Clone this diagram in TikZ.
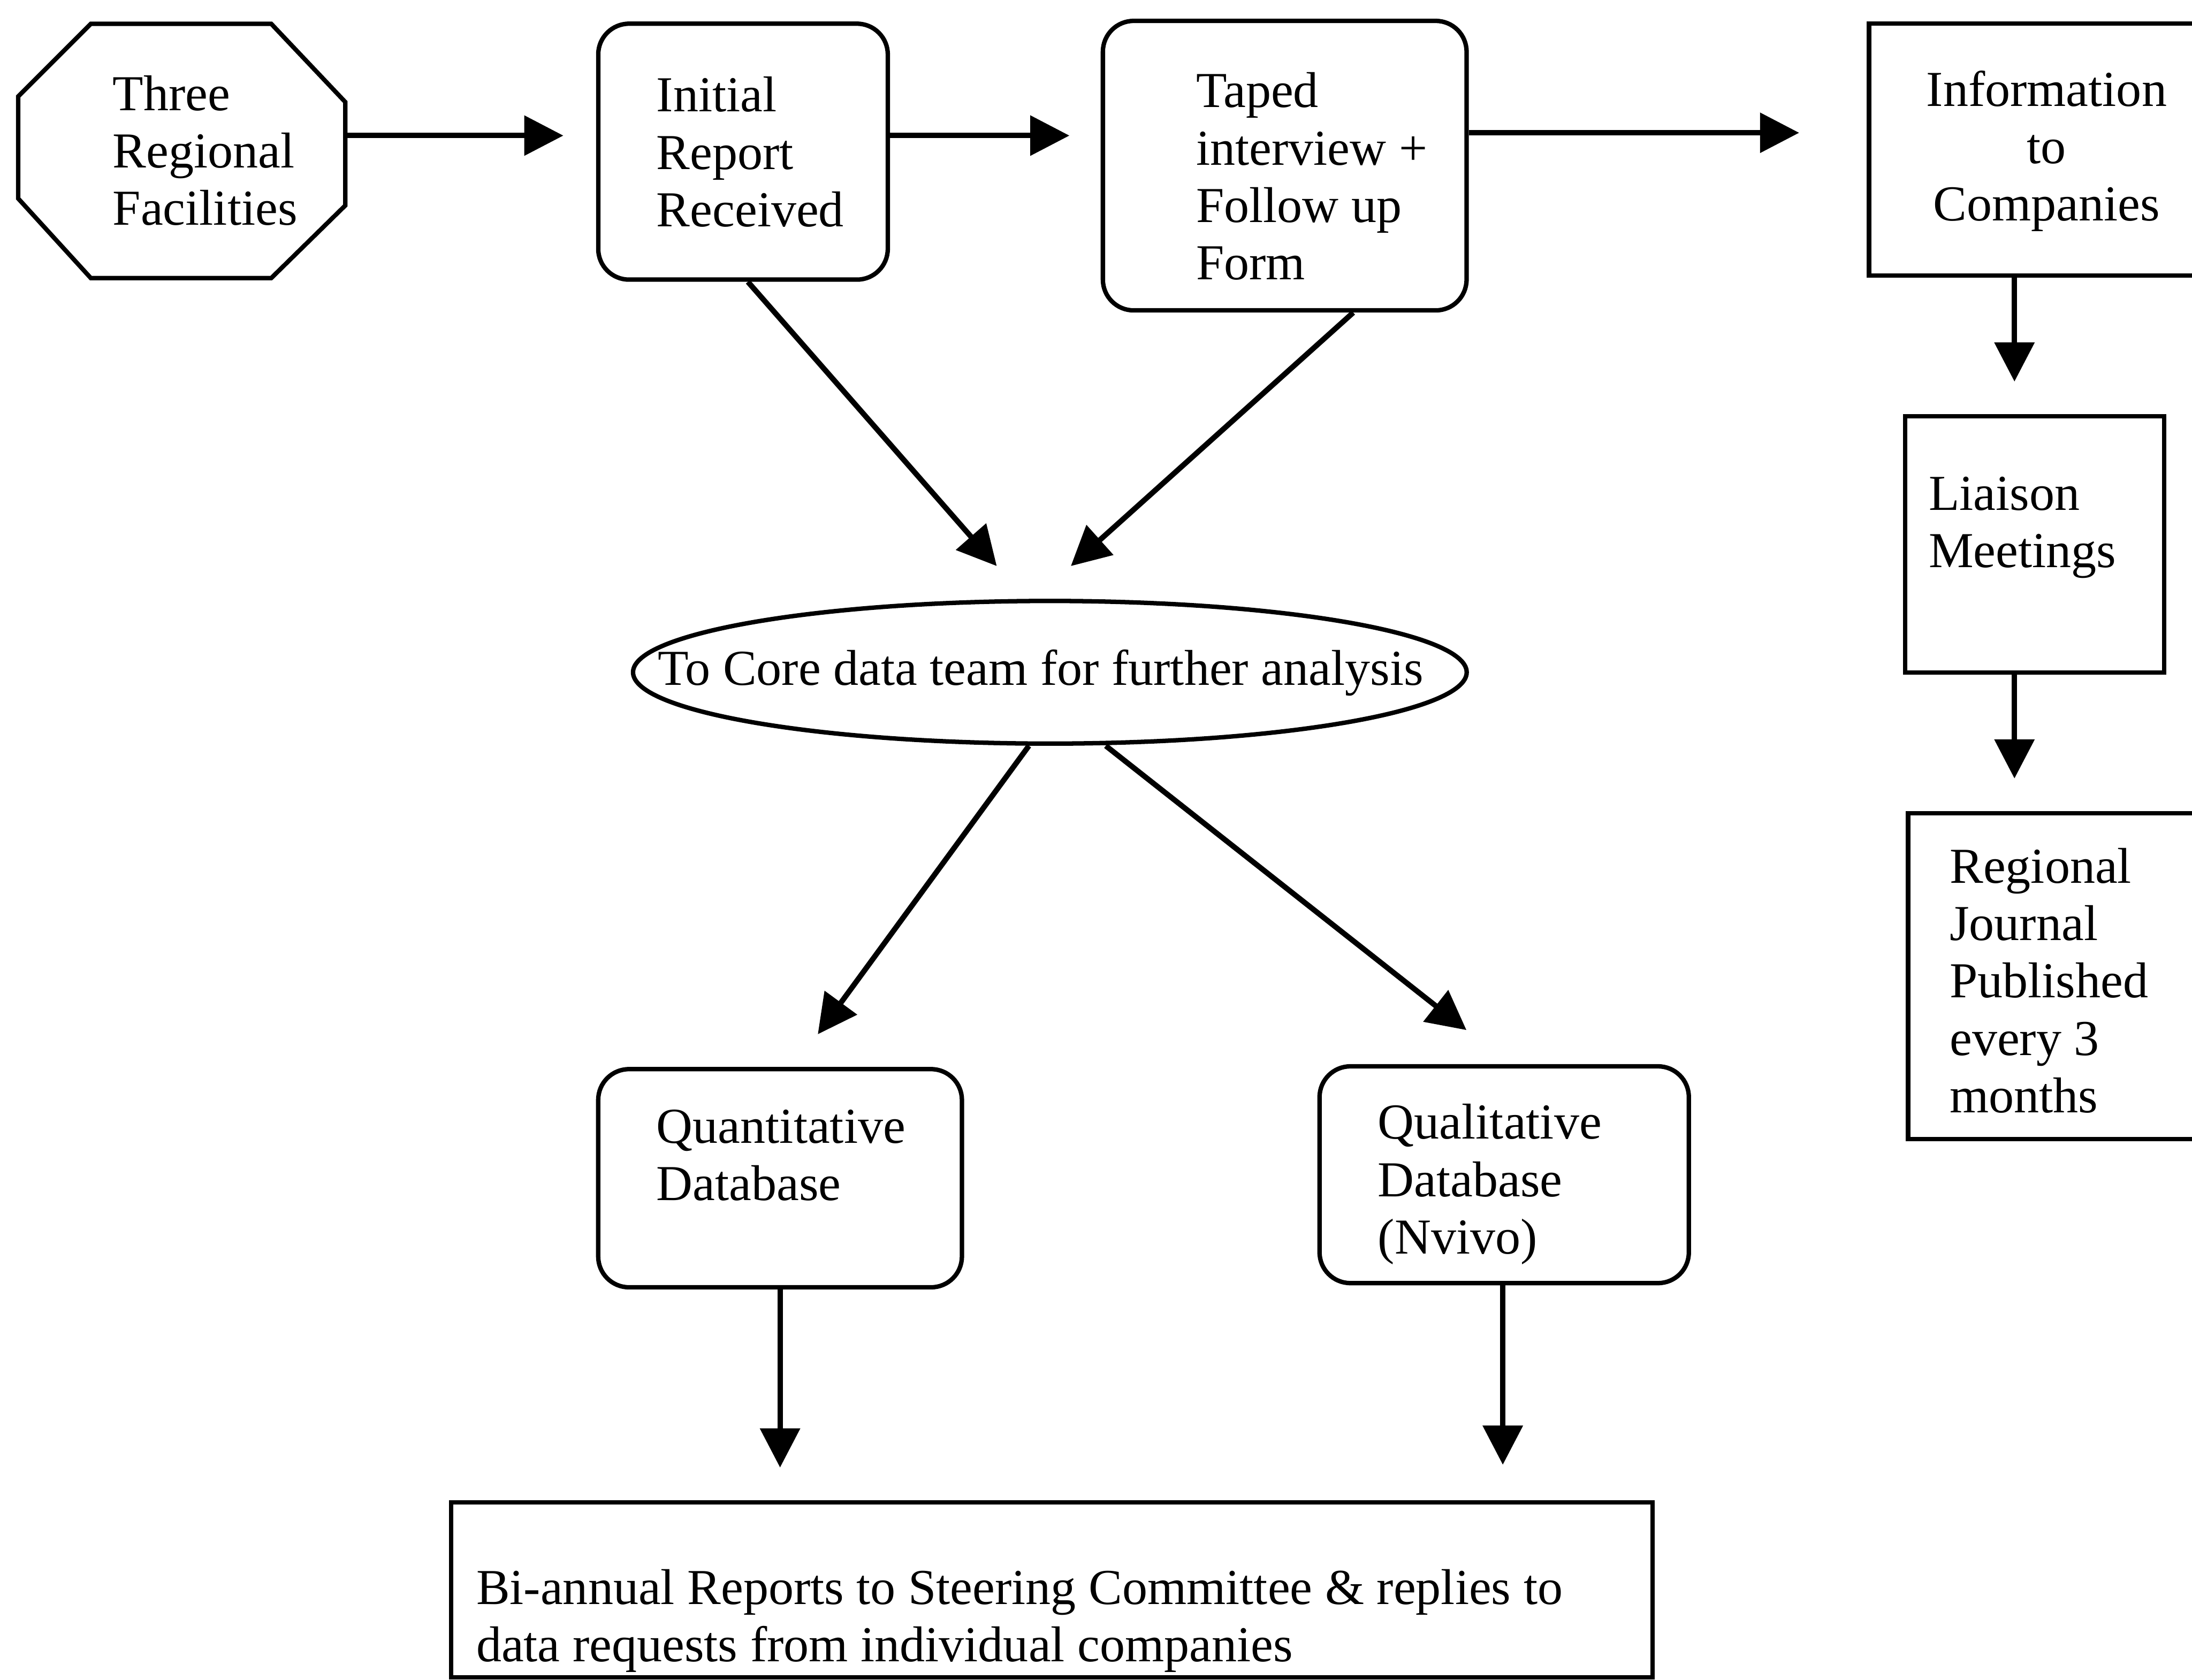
\documentclass[tikz,border=0pt]{standalone}
\usepackage{fontspec}
\setmainfont{Liberation Serif}
\usetikzlibrary{arrows.meta,calc,shapes.geometric}
\begin{document}
\begin{tikzpicture}[x=0.01cm,y=-0.01cm,
  box/.style={draw,line width=0.9pt,inner sep=0pt},
  rbox/.style={box,rounded corners=0.22cm},
  txt/.style={anchor=base west,inner sep=0pt,align=left,font=\fontsize{10.24}{11.67}\selectfont},
  arr/.style={line width=1.1pt,-{Triangle[length=0.28cm,width=0.28cm]}}]
\useasboundingbox (0,0) rectangle (1568,1202);
\clip (0,0) rectangle (1568,1202);
% octagon
\node[inner sep=0pt,minimum width=2.34cm,minimum height=1.82cm] (oct) at (130,108) {};
\draw[line width=0.9pt] (65,17)--(194,17)--(247,73)--(247,147)--(194,199)--(65,199)--(13,142)--(13,69)--cycle;
% boxes
\node[rbox,minimum width=2.07cm,minimum height=1.83cm] (ir) at (531.5,108.5) {};
\node[rbox,minimum width=2.60cm,minimum height=2.07cm] (tp) at (919,118.5) {};
\node[box,minimum width=2.63cm,minimum height=1.80cm] (info) at (1468.5,107) {};
\node[box,minimum width=1.85cm,minimum height=1.83cm] (li) at (1455.5,389.5) {};
\node[box,minimum width=2.35cm,minimum height=2.33cm] (rj) at (1482.5,698.5) {};
\node[draw,ellipse,line width=0.9pt,inner sep=0pt,minimum width=5.96cm,minimum height=1.02cm] (ell) at (751,481) {};
\node[rbox,minimum width=2.60cm,minimum height=1.56cm] (qd) at (558,843) {};
\node[rbox,minimum width=2.64cm,minimum height=1.55cm] (ql) at (1076,840.5) {};
\node[box,minimum width=8.59cm,minimum height=1.25cm] (br) at (752.5,1137.5) {};
% texts (base anchor = baseline of last line)
\node[txt] (toct) at (80,161) {Three\\Regional\\Facilities};
\node[txt] (tir) at (469,162) {Initial\\Report\\Received};
\node[txt] (ttp) at (855,200) {Taped\\interview +\\Follow up\\Form};
\node[txt,anchor=base,align=center] (tinfo) at (1464,158) {Information\\to\\Companies};
\node[txt] (tli) at (1379,406) {Liaison\\Meetings};
\node[txt] (trj) at (1394,796) {Regional\\Journal\\Published\\every 3\\months};
\node[txt] (tell) at (470,490) {To Core data team for further analysis};
\node[txt] (tqd) at (469,859) {Quantitative\\Database};
\node[txt] (tql) at (985,897) {Qualitative\\Database\\(Nvivo)};
\node[txt] (tbr) at (340,1189) {Bi-annual Reports to Steering Committee \& replies to\\data requests from individual companies};
% arrow ends
\coordinate (a1) at (403,97);
\coordinate (a2) at (765,97);
\coordinate (a3) at (1287,95);
\coordinate (a4) at (1441,273);
\coordinate (a5) at (1441,557);
\coordinate (a6) at (713,405);
\coordinate (a7) at (766,405);
\coordinate (a8) at (585,740);
\coordinate (a9) at (1049,737);
\coordinate (a10) at (558,1050);
\coordinate (a11) at (1075,1048);
% arrows
\draw[arr] (oct.east |- a1) -- (a1);
\draw[arr] (ir.east |- a2) -- (a2);
\draw[arr] (tp.east |- a3) -- (a3);
\draw[arr] (info.south -| a4) -- (a4);
\draw[arr] (li.south -| a5) -- (a5);
\draw[arr] ($(ir.south)+(3.5,0)$) -- (a6);
\draw[arr] ($(tp.south)+(49,0)$) -- (a7);
\draw[arr] ($(ell.south)+(-15,0)$) -- (a8);
\draw[arr] ($(ell.south)+(40,0)$) -- (a9);
\draw[arr] (qd.south -| a10) -- (a10);
\draw[arr] (ql.south -| a11) -- (a11);
\end{tikzpicture}
\end{document}
